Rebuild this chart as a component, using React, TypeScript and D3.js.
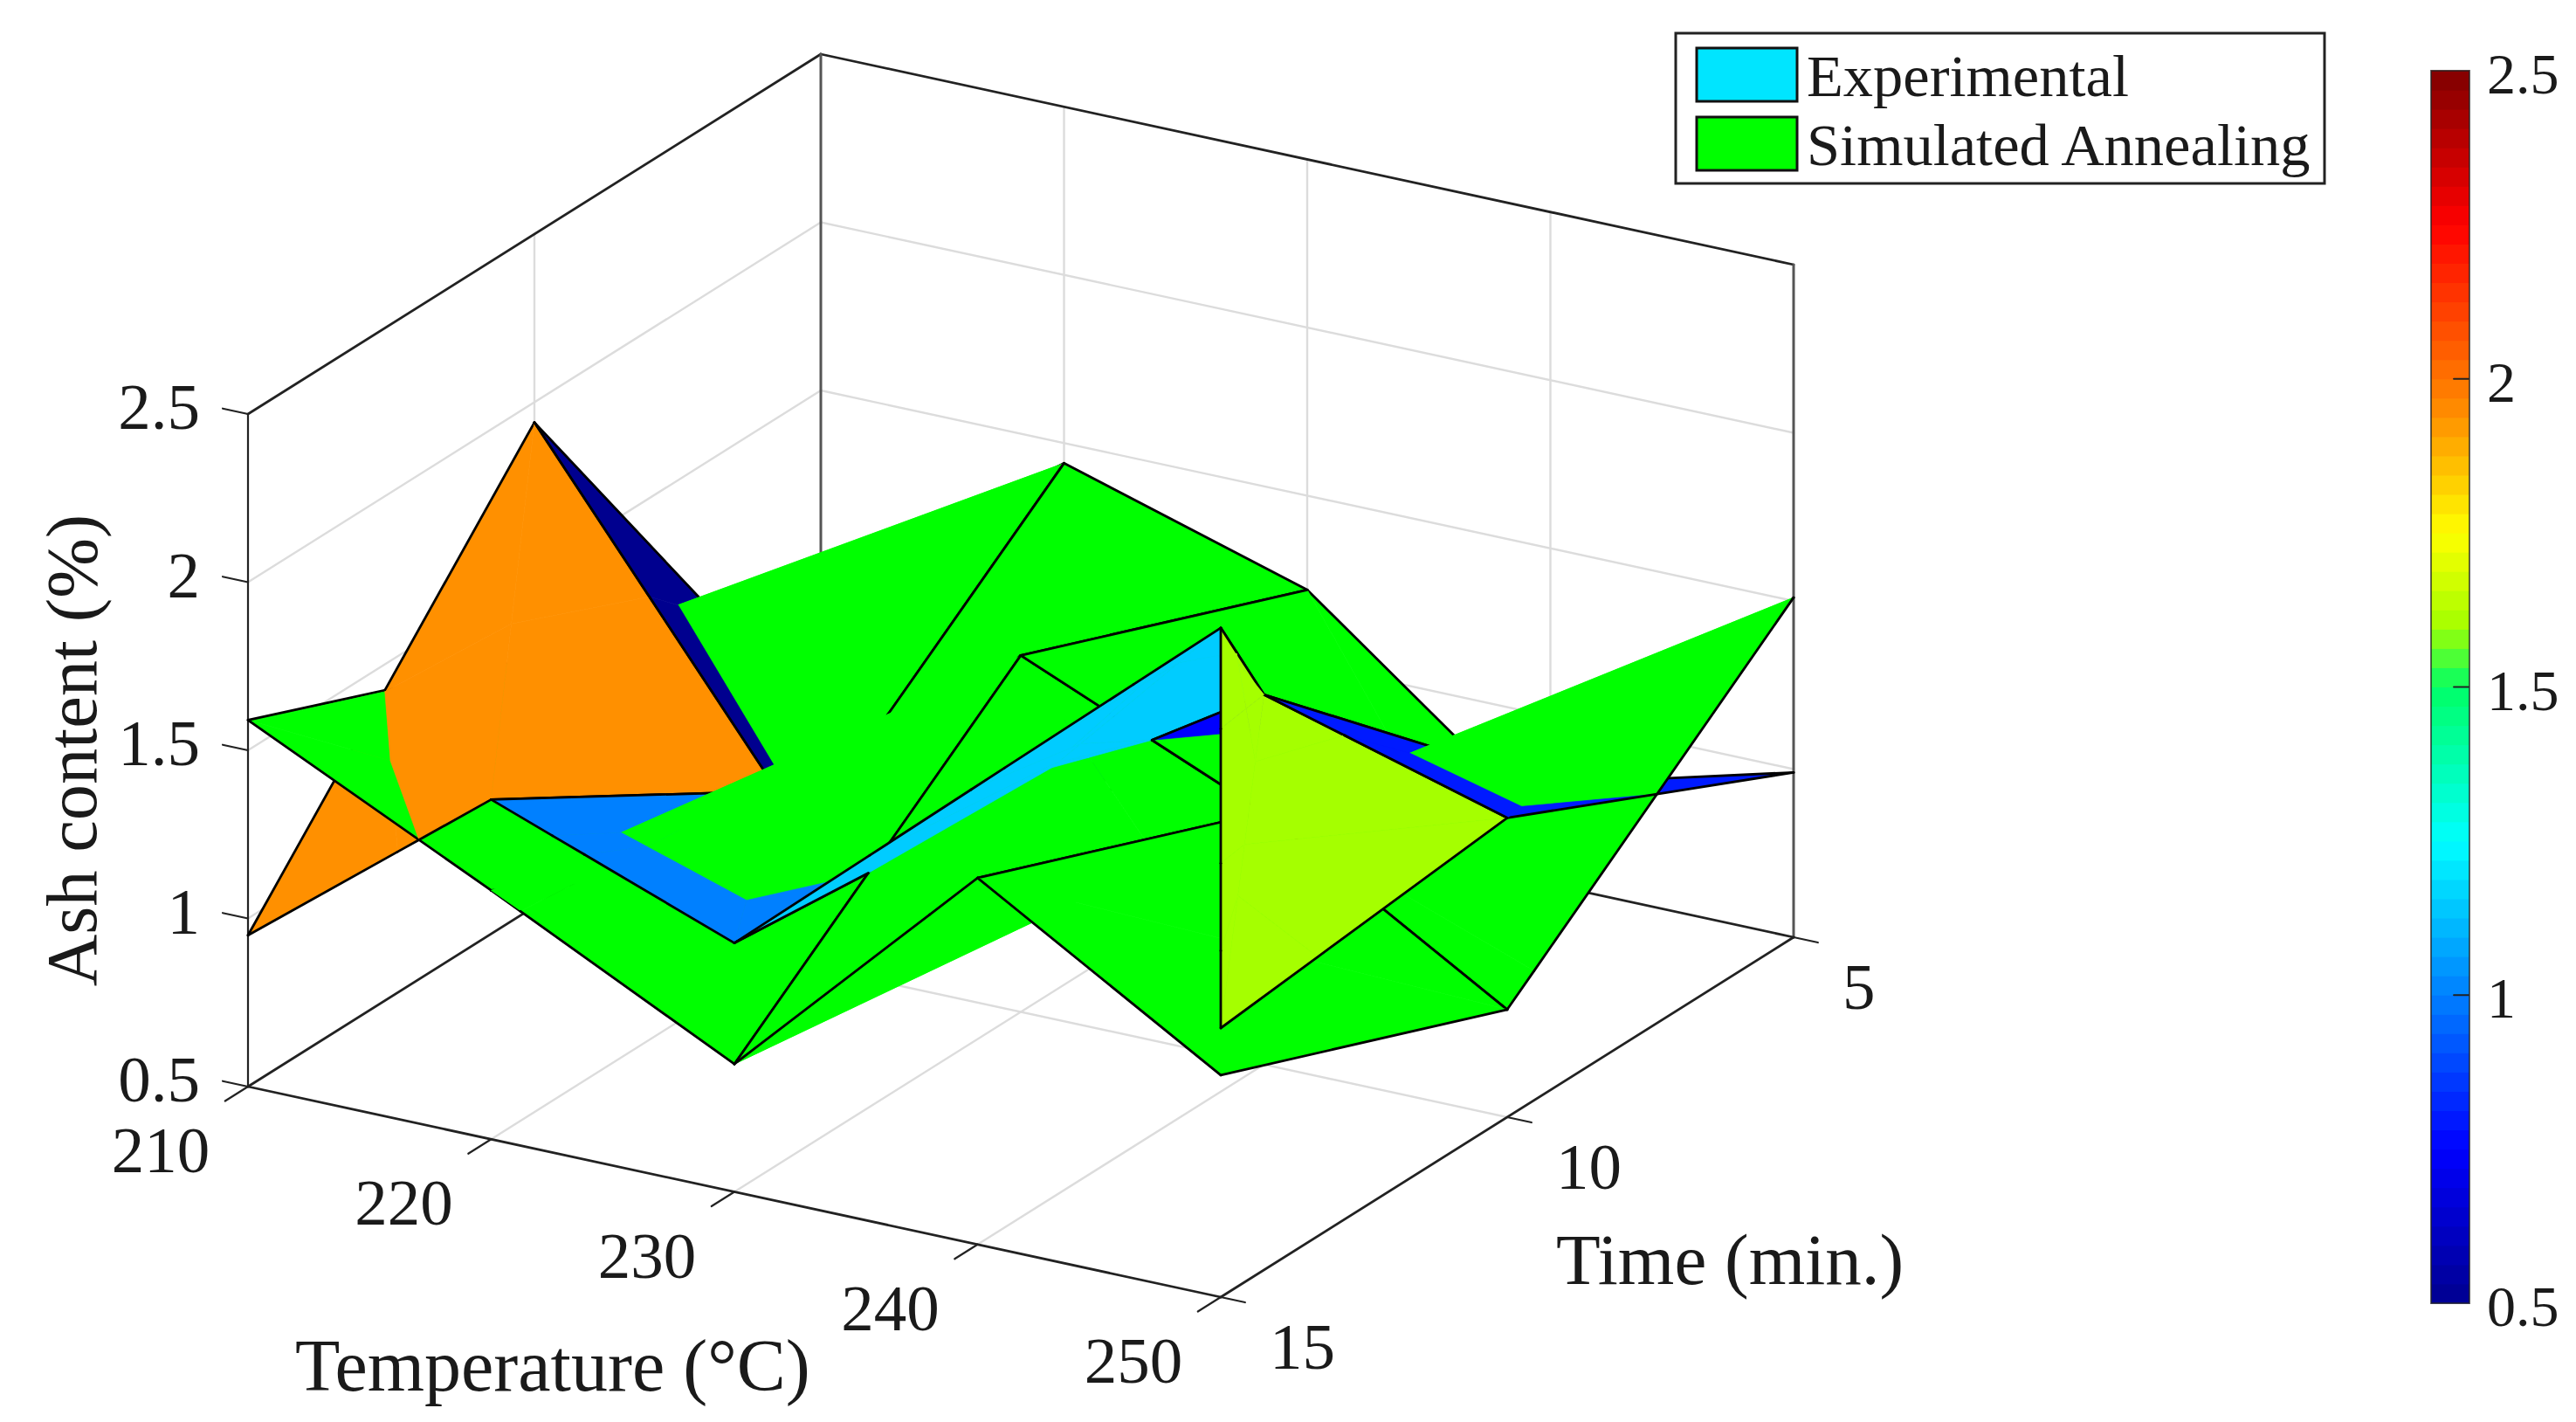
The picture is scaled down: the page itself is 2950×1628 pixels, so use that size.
import React, { useEffect, useRef } from 'react';
import * as d3 from 'd3';

// Grid of the two surfaces
const temps = [210, 220, 230, 240, 250];
const times = [5, 10, 15];

// Experimental surface, one row per time. One 15 min run sits at 250 instead of 240.
const expTemp5 = [210, 220, 230, 240, 250];
const expTemp10 = [210, 220, 230, 240, 250];
const expTemp15 = [210, 220, 230, 250, 250];
const expAsh5 = [0.5, 0.7, 0.75, 0.8, 0.99];
const expAsh10 = [1.94, 1.0, 1.15, 1.6, 1.39];
const expAsh15 = [0.95, 1.51, 1.24, 2.49, 1.3];

// Simulated annealing surface
const simAsh5 = [0.9, 1.44, 1.22, 0.66, 1.51];
const simAsh10 = [1.24, 0.76, 1.56, 1.25, 0.82];
const simAsh15 = [1.59, 1.24, 0.88, 1.59, 1.16];

const zTicks = [0.5, 1, 1.5, 2, 2.5];
const legendLabels = ['Experimental', 'Simulated Annealing'];

// Colormap of the picture (jet like)
const colorStops = [0.5, 0.75, 1.25, 1.5, 1.6, 1.75, 1.94, 2.25, 2.5];
const colorValues = ['#00008f', '#0000ff', '#00ffff', '#00ff66', '#a5ff00', '#ffff00', '#ff9000', '#ff0000', '#800000'];

const FONT = '"Liberation Serif", serif';
const colorScale = d3.scaleLinear<string>().domain(colorStops).range(colorValues).clamp(true);

// Axis box on screen: affine view of the 3D box
const origin = { x: 284, y: 1244 };
const tempAxis = { x: 1114, y: 241 };
const timeAxis = { x: 656, y: -412 };
const zAxisLen = 770;

const uScale = d3.scaleLinear().domain([210, 250]).range([0, 1]);
const vScale = d3.scaleLinear().domain([15, 5]).range([0, 1]);
const wScale = d3.scaleLinear().domain([0.5, 2.5]).range([0, 1]);

// direction towards the viewer, the null vector of the view
const dv = -tempAxis.x / timeAxis.x;
const dw = (tempAxis.y + timeAxis.y * dv) / zAxisLen;

const project = (T, t, z) => {
  const u = uScale(T);
  const v = vScale(t);
  const w = wScale(z);
  return {
    x: origin.x + tempAxis.x * u + timeAxis.x * v,
    y: origin.y + tempAxis.y * u + timeAxis.y * v - zAxisLen * w,
    d: (u + dv * v + dw * w) * 700,
  };
};

const EPS = 1e-4;

const planeOf = (pts) => {
  const a = pts[0];
  const b = pts[1];
  const c = pts[2];
  const ux = b.x - a.x, uy = b.y - a.y, ud = b.d - a.d;
  const vx = c.x - a.x, vy = c.y - a.y, vd = c.d - a.d;
  let nx = uy * vd - ud * vy;
  let ny = ud * vx - ux * vd;
  let nd = ux * vy - uy * vx;
  const len = Math.hypot(nx, ny, nd) || 1;
  nx /= len; ny /= len; nd /= len;
  return { nx, ny, nd, c: nx * a.x + ny * a.y + nd * a.d };
};

const clipPoly = (poly, dist, sign) => {
  const pts = [];
  const edges = [];
  const n = poly.pts.length;
  for (let i = 0; i < n; i++) {
    const j = (i + 1) % n;
    const a = poly.pts[i];
    const b = poly.pts[j];
    const sa = sign * dist[i];
    const sb = sign * dist[j];
    const cross = () => {
      const k = sa / (sa - sb);
      return { x: a.x + (b.x - a.x) * k, y: a.y + (b.y - a.y) * k, d: a.d + (b.d - a.d) * k };
    };
    if (sa >= 0 && sb >= 0) {
      pts.push(a); edges.push(poly.edges[i]);
    } else if (sa >= 0 && sb < 0) {
      if (sa > 0) {
        pts.push(a); edges.push(poly.edges[i]);
        pts.push(cross()); edges.push(false);
      } else {
        pts.push(a); edges.push(false);
      }
    } else if (sa < 0 && sb > 0) {
      pts.push(cross()); edges.push(poly.edges[i]);
    }
  }
  return pts.length >= 3 ? { pts, edges, fill: poly.fill } : null;
};

// BSP tree so the two surfaces cut through each other, painted back to front
const paintOrder = (polys) => {
  if (polys.length === 0) return [];
  const [node, ...rest] = polys;
  const plane = planeOf(node.pts);
  const on = [node];
  const front = [];
  const back = [];
  rest.forEach(p => {
    const dist = p.pts.map(q => {
      const s = plane.nx * q.x + plane.ny * q.y + plane.nd * q.d - plane.c;
      return Math.abs(s) < EPS ? 0 : s;
    });
    const hasFront = dist.some(s => s > 0);
    const hasBack = dist.some(s => s < 0);
    if (!hasFront && !hasBack) on.push(p);
    else if (!hasBack) front.push(p);
    else if (!hasFront) back.push(p);
    else {
      const f = clipPoly(p, dist, 1);
      const b = clipPoly(p, dist, -1);
      if (f) front.push(f);
      if (b) back.push(b);
    }
  });
  const f = paintOrder(front);
  const b = paintOrder(back);
  return plane.nd >= 0 ? [...b, ...on, ...f] : [...f, ...on, ...b];
};

// two triangles per cell, grid edges black, the diagonal has no line
const buildSurface = (tempRows, ashRows, diagUp, fillOf) => {
  const tris = [];
  for (let j = 0; j < times.length - 1; j++) {
    for (let i = 0; i < temps.length - 1; i++) {
      const a = project(tempRows[j][i], times[j], ashRows[j][i]);
      const b = project(tempRows[j][i + 1], times[j], ashRows[j][i + 1]);
      const c = project(tempRows[j + 1][i + 1], times[j + 1], ashRows[j + 1][i + 1]);
      const e = project(tempRows[j + 1][i], times[j + 1], ashRows[j + 1][i]);
      const fill = fillOf(ashRows[j][i]);
      if (diagUp) {
        // diagonal from low T / long time to high T / short time
        tris.push({ pts: [e, a, b], edges: [true, true, false], fill });
        tris.push({ pts: [e, b, c], edges: [false, true, true], fill });
      } else {
        tris.push({ pts: [a, b, c], edges: [true, true, false], fill });
        tris.push({ pts: [a, c, e], edges: [false, true, true], fill });
      }
    }
  }
  return tris;
};

const App = () => {
  const svgRef = useRef();

  useEffect(() => {
    const svg = d3.select(svgRef.current);
    svg.selectAll('*').remove(); // Clear previous render

    const seg = (g, p, q, color, width) => g.append('line')
      .attr('x1', p.x).attr('y1', p.y).attr('x2', q.x).attr('y2', q.y)
      .attr('stroke', color).attr('stroke-width', width).attr('stroke-linecap', 'round');

    const addText = (x, y, text, size, anchor = 'start') => svg.append('text')
      .attr('x', x).attr('y', y)
      .attr('font-family', FONT).attr('font-size', size)
      .attr('text-anchor', anchor).attr('fill', '#1a1a1a')
      .text(text);

    const [T0, T1] = uScale.domain();
    const [t0, t1] = vScale.domain(); // 15 and 5
    const [z0, z1] = wScale.domain();

    // grid lines on walls and floor
    const grid = svg.append('g');
    const gridColor = '#dcdcdc';
    temps.slice(1, -1).forEach(T => {
      seg(grid, project(T, t0, z0), project(T, t1, z0), gridColor, 2.4);
      seg(grid, project(T, t1, z0), project(T, t1, z1), gridColor, 2.4);
    });
    seg(grid, project(T0, 10, z0), project(T1, 10, z0), gridColor, 2.4);
    seg(grid, project(T0, 10, z0), project(T0, 10, z1), gridColor, 2.4);
    zTicks.slice(1, -1).forEach(z => {
      seg(grid, project(T0, t0, z), project(T0, t1, z), gridColor, 2.4);
      seg(grid, project(T0, t1, z), project(T1, t1, z), gridColor, 2.4);
    });

    // box lines
    const box = svg.append('g');
    seg(box, project(T0, t0, z1), project(T0, t1, z1), '#222', 2.8);
    seg(box, project(T0, t1, z1), project(T1, t1, z1), '#222', 2.8);
    seg(box, project(T0, t1, z0), project(T0, t1, z1), '#555', 3);
    seg(box, project(T1, t1, z0), project(T1, t1, z1), '#555', 3);
    seg(box, project(T0, t0, z0), project(T0, t1, z0), '#222', 2.8);
    seg(box, project(T0, t1, z0), project(T1, t1, z0), '#222', 2.8);
    seg(box, project(T0, t0, z0), project(T1, t0, z0), '#222', 2.8);
    seg(box, project(T1, t0, z0), project(T1, t1, z0), '#222', 2.8);
    seg(box, project(T0, t0, z0), project(T0, t0, z1), '#222', 2.2);

    // ticks and tick labels
    temps.forEach(T => {
      const p = project(T, t0, z0);
      seg(box, p, { x: p.x - timeAxis.x * 0.04, y: p.y - timeAxis.y * 0.04 }, '#222', 2.2);
      addText(p.x - 100, p.y + 98, T, 75, 'middle');
    });
    times.forEach(t => {
      const p = project(T1, t, z0);
      seg(box, p, { x: p.x + tempAxis.x * 0.025, y: p.y + tempAxis.y * 0.025 }, '#222', 2.2);
      addText(p.x + 56, p.y + 82, t, 75);
    });
    zTicks.forEach(z => {
      const p = project(T0, t0, z);
      seg(box, p, { x: p.x - tempAxis.x * 0.026, y: p.y - tempAxis.y * 0.026 }, '#222', 2.2);
      addText(229, p.y + 17, z, 75, 'end');
    });

    // axis titles
    addText(338, 1592, 'Temperature (°C)', 84);
    addText(1782, 1470, 'Time (min.)', 83);
    svg.append('text')
      .attr('transform', 'translate(110,859) rotate(-90)')
      .attr('font-family', FONT).attr('font-size', 82.5)
      .attr('text-anchor', 'middle').attr('fill', '#1a1a1a')
      .text('Ash content (%)');

    // surfaces
    const expTris = buildSurface([expTemp5, expTemp10, expTemp15], [expAsh5, expAsh10, expAsh15], false, z => colorScale(z));
    const simTris = buildSurface([temps, temps, temps], [simAsh5, simAsh10, simAsh15], true, () => '#00ff00');
    const ordered = paintOrder([...simTris, ...expTris]);

    const polyPath = d3.line().x(d => d.x).y(d => d.y).curve(d3.curveLinearClosed);
    const surf = svg.append('g');
    ordered.forEach(poly => {
      surf.append('path')
        .attr('d', polyPath(poly.pts))
        .attr('fill', poly.fill)
        .attr('stroke', poly.fill)
        .attr('stroke-width', 0.7)
        .attr('stroke-linejoin', 'round');
      poly.edges.forEach((on, i) => {
        if (on) seg(surf, poly.pts[i], poly.pts[(i + 1) % poly.pts.length], '#000', 2.8);
      });
    });

    // legend
    svg.append('rect')
      .attr('x', 1919).attr('y', 38).attr('width', 743).attr('height', 172)
      .attr('fill', '#fff').attr('stroke', '#222').attr('stroke-width', 3);
    ['#00e5ff', '#00ff00'].forEach((c, i) => {
      svg.append('rect')
        .attr('x', 1943).attr('y', 55 + i * 79).attr('width', 115).attr('height', 61)
        .attr('fill', c).attr('stroke', '#111').attr('stroke-width', 3);
      addText(2069, 110 + i * 79, legendLabels[i], 68.5);
    });

    // colorbar
    const barY = d3.scaleLinear().domain([0.5, 2.5]).range([1492, 81]);
    const bar = svg.append('g');
    const levels = d3.range(64).map(i => 0.5 + (i + 0.5) * (2 / 64));
    bar.selectAll('rect').data(levels).enter().append('rect')
      .attr('x', 2784).attr('width', 44)
      .attr('y', d => barY(d + 1 / 64) - 0.5)
      .attr('height', barY(0.5) - barY(0.5 + 2 / 64) + 1)
      .attr('fill', d => colorScale(d));
    svg.append('rect')
      .attr('x', 2784).attr('y', 81).attr('width', 44).attr('height', 1411)
      .attr('fill', 'none').attr('stroke', '#222').attr('stroke-width', 2).attr('stroke-opacity', 0.7);
    zTicks.forEach(z => {
      const y = barY(z);
      if (z > 0.5 && z < 2.5) seg(svg, { x: 2810, y }, { x: 2827, y }, '#222', 1.8);
      addText(2848, y + 26, z, 66);
    });
  }, []);

  return (
    <svg ref={svgRef} width={2950} height={1628} style={{ position: 'absolute', left: 0, top: 0, background: '#fff' }}></svg>
  );
};

export default App;
